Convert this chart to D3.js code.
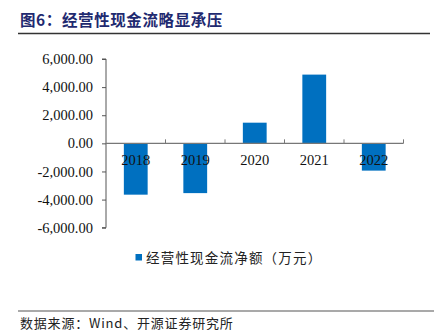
<!DOCTYPE html>
<html>
<head>
<meta charset="utf-8">
<script src="https://cdn.jsdelivr.net/npm/d3@7/dist/d3.min.js"></script>
<style>
  html, body { margin: 0; padding: 0; background: #fff; }
  svg { display: block; }
</style>
</head>
<body>
<svg id="chart" width="434" height="331"></svg>
<script>
// Operating cash flow, net amount (10k CNY)
const years = ["2018", "2019", "2020", "2021", "2022"];
const netCashFlow = [-3650, -3540, 1470, 4890, -1940];
const yTicks = [6000, 4000, 2000, 0, -2000, -4000, -6000];

const titleText = "图6：经营性现金流略显承压";
const legendText = "经营性现金流净额（万元）";
const sourceText = "数据来源：Wind、开源证券研究所";

const svg = d3.select("#chart");
const cjk = "'Noto Sans CJK SC', 'Noto Sans', sans-serif";
const serif = "'Liberation Serif', 'DejaVu Serif', serif";

// Number format with a plain hyphen for negatives
const locale = d3.formatLocale({ decimal: ".", thousands: ",", grouping: [3], currency: ["", ""], minus: "-" });
const fmt = locale.format(",.2f");

// Title and rule beneath it
svg.append("text")
  .attr("x", 20).attr("y", 26)
  .attr("font-family", cjk)
  .attr("font-weight", "bold")
  .attr("font-size", 15.5)
  .attr("letter-spacing", 0.6)
  .attr("fill", "#1f2a70")
  .text(titleText);
svg.append("line")
  .attr("x1", 18).attr("x2", 430)
  .attr("y1", 33.5).attr("y2", 33.5)
  .attr("stroke", "#333").attr("stroke-width", 1.3);

// Scales
const x = d3.scaleBand().domain(years).range([106, 403.5]).paddingInner(0.6).paddingOuter(0.3);
const xEdges = d3.scaleLinear().domain([0, years.length]).range([106, 403.5]);
const y = d3.scaleLinear().domain([-6000, 6000]).range([227.7, 59]);

// Bars
svg.append("g")
  .selectAll("rect")
  .data(netCashFlow)
  .join("rect")
  .attr("x", (d, i) => x(years[i]))
  .attr("width", x.bandwidth())
  .attr("y", d => y(Math.max(0, d)))
  .attr("height", d => Math.abs(y(d) - y(0)))
  .attr("fill", "#0070c0");

// Y axis
const yAxis = d3.axisLeft(y)
  .tickValues(yTicks)
  .tickSize(4)
  .tickPadding(9)
  .tickFormat(fmt);
const gy = svg.append("g")
  .attr("transform", "translate(106,0)")
  .call(yAxis);
gy.select(".domain").attr("stroke", "#555").attr("d", `M-4,${y(6000)}H0V${y(-6000)}H-4`);
gy.selectAll(".tick line").attr("stroke", "#555");
gy.selectAll(".tick text")
  .attr("font-family", serif)
  .attr("font-size", 14.5)
  .attr("fill", "#111");

// Zero baseline with category boundary ticks
const gx = svg.append("g");
gx.append("line")
  .attr("x1", xEdges(0)).attr("x2", xEdges(years.length))
  .attr("y1", y(0)).attr("y2", y(0))
  .attr("stroke", "#777").attr("stroke-width", 1.3);
gx.selectAll("line.edge")
  .data(d3.range(1, years.length + 1))
  .join("line")
  .attr("class", "edge")
  .attr("x1", d => xEdges(d)).attr("x2", d => xEdges(d))
  .attr("y1", y(0)).attr("y2", y(0) - 4)
  .attr("stroke", "#777");

// Category labels
gx.selectAll("text")
  .data(years)
  .join("text")
  .attr("x", d => x(d) + x.bandwidth() / 2)
  .attr("y", y(0) + 22)
  .attr("text-anchor", "middle")
  .attr("font-family", serif)
  .attr("font-size", 14.5)
  .attr("fill", "#111")
  .text(d => d);

// Legend
svg.append("rect")
  .attr("x", 135.5).attr("y", 254)
  .attr("width", 6.5).attr("height", 6.5)
  .attr("fill", "#0070c0");
svg.append("text")
  .attr("x", 146).attr("y", 262.5)
  .attr("font-family", cjk)
  .attr("font-size", 13.5)
  .attr("letter-spacing", 1.2)
  .attr("fill", "#222")
  .text(legendText);

// Source rule and note
svg.append("line")
  .attr("x1", 18).attr("x2", 434)
  .attr("y1", 311).attr("y2", 311)
  .attr("stroke", "#555").attr("stroke-width", 1.2);
svg.append("text")
  .attr("x", 20).attr("y", 328)
  .attr("font-family", cjk)
  .attr("font-size", 13)
  .attr("letter-spacing", 0.8)
  .attr("fill", "#222")
  .text(sourceText);
</script>
</body>
</html>
